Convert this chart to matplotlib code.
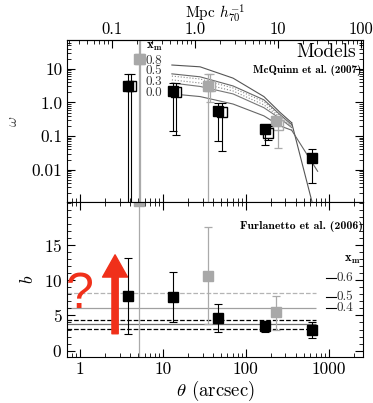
import matplotlib
matplotlib.use('Agg')
import matplotlib.pyplot as plt
import numpy as np
from matplotlib.ticker import FixedLocator, FixedFormatter, LogLocator, NullFormatter, MultipleLocator

plt.rcParams['font.family'] = 'cmr10'
plt.rcParams['mathtext.fontset'] = 'cm'
plt.rcParams['axes.formatter.use_mathtext'] = True

# top panel: angular correlation
theta_blk = [3.76, 13.2, 46.4, 169, 620]
w_blk = [3.1, 2.2, 0.54, 0.16, 0.022]
w_blk_hi = [7.1, 3.9, 0.96, 0.22, 0.04]
w_blk_lo = [1e-5, 0.138, 0.07, 0.055, 0.0039]

theta_open = [4.15, 14.5, 51.0, 183]
w_open = [3.1, 2.1, 0.53, 0.12]
w_open_hi = [7.1, 3.9, 0.96, 0.2]
w_open_lo = [1e-5, 0.11, 0.037, 0.078]

theta_gry = [5.1, 35.2, 230]
w_gry = [20, 3.1, 0.29]
w_gry_hi = [1000, 7.0, 0.4]
w_gry_lo = [1e-5, 1e-5, 0.2]

theta_gry_open = [5.35, 37.0, 245]
w_gry_open = [20, 3.0, 0.21]
w_gry_open_hi = [1000, 7.0, 0.3]
w_gry_open_lo = [1e-5, 1.0, 0.045]

# McQuinn et al. models
theta_mod = [12.8, 28, 70, 165, 260, 357]
w_m08 = [13, 11.5, 5.3, 1.5, 0.5, 0.25]
w_m05 = [7.1, 5.8, 3.1, 1.2, 0.43, 0.22]
w_dot1 = [6.1, 5.0, 2.7, 1.05, 0.4, 0.2]
w_dot2 = [4.7, 3.8, 2.2, 0.85, 0.36, 0.19]
w_m03 = [3.8, 3.0, 1.8, 0.7, 0.33, 0.18]
w_m00 = [1.8, 1.5, 0.9, 0.4, 0.2, 0.15]
theta_tail08 = [357, 650]
w_tail08 = [0.25, 0.0008]
theta_tail00 = [357, 735]
w_tail00 = [0.15, 0.009]
xm_top = ['0.8', '0.5', '0.3', '0.0']

# bottom panel: bias
b_blk = [7.75, 7.55, 4.6, 3.5, 2.9]
b_blk_hi = [13.2, 11.1, 6.6, 4.2, 4.1]
b_blk_lo = [2.35, 4.0, 2.6, 2.6, 1.8]
b_gry = [21.2, 10.6, 5.5]
b_gry_hi = [30, 17.6, 7.8]
b_gry_lo = [-5, 3.8, 3.0]

# Furlanetto et al. levels
b_levels = [8.2, 6.0, 4.35, 3.8, 3.07]
level_colors = ['#b4b4b4', '#a0a0a0', 'black', '#707070', 'black']
level_styles = ['--', '-', '--', '-', '--']
xm_right = ['0.6', '0.5', '0.4']

arcsec_to_mpc = 0.0411

fig = plt.figure(figsize=(3.73, 4.03), dpi=100)
ax1 = fig.add_axes([0.18, 0.4988, 0.7935, 0.4019])
ax2 = fig.add_axes([0.18, 0.1141, 0.7935, 0.3847])

def errs(v, lo, hi):
    v = np.array(v)
    return [v - np.array(lo), np.array(hi) - v]

# models
for w, c in zip([w_m08, w_m05, w_m03, w_m00], ['#555555', '#666666', '#777777', '#666666']):
    ax1.plot(theta_mod, w, color=c, lw=0.8, zorder=1)
for w in [w_dot1, w_dot2]:
    ax1.plot(theta_mod, w, color='#888888', lw=0.8, ls=':', zorder=1)
ax1.plot(theta_tail08, w_tail08, color='#555555', lw=0.8, zorder=1)
ax1.plot(theta_tail00, w_tail00, color='#666666', lw=0.8, zorder=1)

ax1.errorbar(theta_gry_open, w_gry_open, yerr=errs(w_gry_open, w_gry_open_lo, w_gry_open_hi),
             fmt='s', ms=7, mfc='none', mec='#aaaaaa', ecolor='#aaaaaa', elinewidth=0.9,
             capsize=3, capthick=0.9, zorder=2)
ax1.errorbar(theta_gry, w_gry, yerr=errs(w_gry, w_gry_lo, w_gry_hi),
             fmt='s', ms=7, mfc='#a8a8a8', mec='#a8a8a8', ecolor='#aaaaaa', elinewidth=0.9,
             capsize=3, capthick=0.9, zorder=2)
ax1.errorbar(theta_open, w_open, yerr=errs(w_open, w_open_lo, w_open_hi),
             fmt='s', ms=7, mfc='white', mec='black', ecolor='black', elinewidth=0.8,
             capsize=3, capthick=0.8, zorder=3)
ax1.errorbar(theta_blk, w_blk, yerr=errs(w_blk, w_blk_lo, w_blk_hi),
             fmt='s', ms=7, mfc='black', mec='black', ecolor='black', elinewidth=0.8,
             capsize=3, capthick=0.8, zorder=4)

ax1.set_xscale('log')
ax1.set_yscale('log')
ax1.set_xlim(0.697, 2600)
ax1.set_ylim(0.0011, 72)
ax1.yaxis.set_major_locator(FixedLocator([0.01, 0.1, 1, 10]))
ax1.yaxis.set_major_formatter(FixedFormatter(['0.01', '0.1', '1.0', '10']))
ax1.yaxis.set_minor_locator(LogLocator(subs=np.arange(2, 10)))
ax1.yaxis.set_minor_formatter(NullFormatter())
ax1.xaxis.set_major_locator(FixedLocator([1, 10, 100, 1000]))
ax1.xaxis.set_minor_locator(LogLocator(subs=np.arange(2, 10)))
ax1.xaxis.set_major_formatter(NullFormatter())
ax1.xaxis.set_minor_formatter(NullFormatter())
ax1.tick_params(which='both', direction='in', right=True, top=False, labelsize=12.5)
ax1.tick_params(which='major', length=6)
ax1.tick_params(which='minor', length=3)
ax1.set_ylabel(r'$\omega$', fontsize=11, color='#444444')
ax1.yaxis.set_label_coords(-0.16, 0.5)

top = ax1.secondary_xaxis('top', functions=(lambda t: t * arcsec_to_mpc, lambda m: m / arcsec_to_mpc))
top.xaxis.set_major_locator(FixedLocator([0.1, 1, 10, 100]))
top.xaxis.set_major_formatter(FixedFormatter(['0.1', '1.0', '10', '100']))
top.xaxis.set_minor_locator(LogLocator(subs=np.arange(2, 10)))
top.xaxis.set_minor_formatter(NullFormatter())
top.tick_params(which='both', direction='in', labelsize=12, pad=2.5)
top.tick_params(which='major', length=6)
top.tick_params(which='minor', length=3)
top.set_xlabel(r'Mpc $h_{70}^{-1}$', fontsize=11, labelpad=2)

ax1.text(0.975, 0.925, 'Models', transform=ax1.transAxes, ha='right', va='center', fontsize=14)
ax1.text(0.995, 0.81, 'McQuinn et al. (2007)', transform=ax1.transAxes, ha='right', va='center',
         fontsize=8, family='cmb10')
ax1.text(0.265, 0.955, r'$\mathbf{x_m}$', transform=ax1.transAxes, ha='left', va='center', fontsize=9)
for i, lab in enumerate(xm_top):
    ax1.text(0.265, 0.872 - i * 0.066, lab, transform=ax1.transAxes, ha='left', va='center',
             fontsize=9.5, color='#333333')

# bottom panel
for y, c, s in zip(b_levels, level_colors, level_styles):
    ax2.hlines(y, 0.697, 710, colors=c, linestyles=s, lw=0.9, zorder=1)

ax2.errorbar(theta_gry, b_gry, yerr=errs(b_gry, b_gry_lo, b_gry_hi),
             fmt='s', ms=7, mfc='#a8a8a8', mec='#a8a8a8', ecolor='#aaaaaa', elinewidth=0.9,
             capsize=3, capthick=0.9, zorder=2)
ax2.errorbar(theta_blk, b_blk, yerr=errs(b_blk, b_blk_lo, b_blk_hi),
             fmt='s', ms=7, mfc='black', mec='black', ecolor='black', elinewidth=0.8,
             capsize=3, capthick=0.8, zorder=4)

ax2.set_xscale('log')
ax2.set_xlim(0.697, 2600)
ax2.set_ylim(-0.9, 21.1)
ax2.yaxis.set_major_locator(FixedLocator([0, 5, 10, 15]))
ax2.yaxis.set_minor_locator(MultipleLocator(1))
ax2.xaxis.set_major_locator(FixedLocator([1, 10, 100, 1000]))
ax2.xaxis.set_major_formatter(FixedFormatter(['1', '10', '100', '1000']))
ax2.xaxis.set_minor_locator(LogLocator(subs=np.arange(2, 10)))
ax2.xaxis.set_minor_formatter(NullFormatter())
ax2.tick_params(which='both', direction='in', right=True, top=True, labelsize=12.5)
ax2.tick_params(which='major', length=6)
ax2.tick_params(which='minor', length=3)
ax2.set_ylabel(r'$b$', fontsize=12.5)
ax2.yaxis.set_label_coords(-0.105, 0.5)
ax2.set_xlabel(r'$\theta$ (arcsec)', fontsize=13.5, labelpad=1)

ax2.text(0.998, 0.84, 'Furlanetto et al. (2006)', transform=ax2.transAxes, ha='right', va='center',
         fontsize=8.5, family='cmb10')
ax2.text(0.965, 0.625, r'$\mathbf{x_m}$', transform=ax2.transAxes, ha='center', va='center', fontsize=9)
for lab, yy in zip(xm_right, [0.51, 0.385, 0.316]):
    ax2.plot([0.875, 0.91], [yy, yy], color='black', lw=0.8, transform=ax2.transAxes)
    ax2.text(0.91, yy, lab, transform=ax2.transAxes, ha='left', va='center', fontsize=9.5, color='#333333')

# red annotation
ax2.annotate('', xy=(2.64, 13.6), xytext=(2.64, 2.4),
             arrowprops=dict(width=4.5, headwidth=18, headlength=16, color='#f0301a', shrink=0))
ax2.text(1.0, 7.9, '?', ha='center', va='center', fontsize=36, color='#f0301a', family='Liberation Sans')

fig.savefig('out.png', dpi=100)
